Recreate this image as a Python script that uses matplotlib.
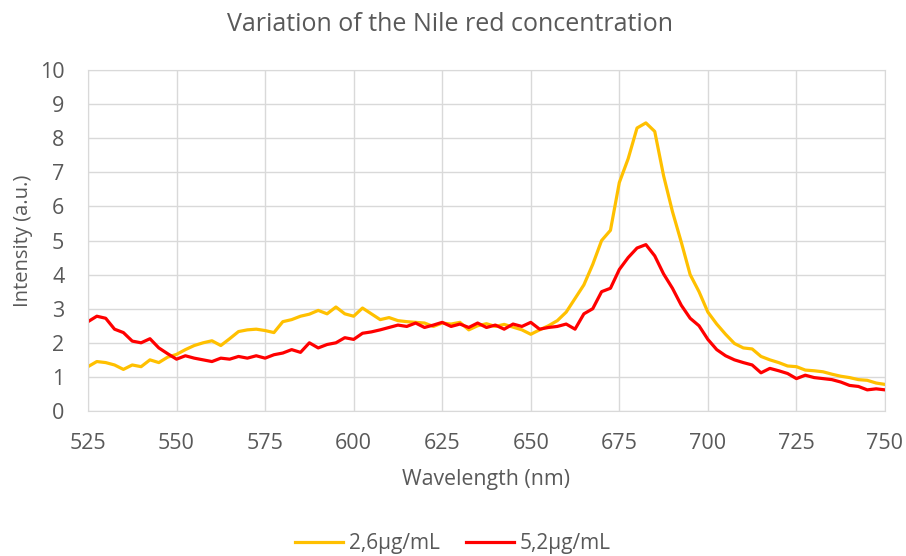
import numpy as np
import matplotlib.pyplot as plt

plt.rcParams['font.family'] = ['Open Sans', 'DejaVu Sans']

# wavelength grid (nm)
wavelength = np.arange(525, 750.1, 2.5)

conc_26 = [1.30, 1.45, 1.42, 1.35, 1.22, 1.35, 1.30, 1.50, 1.42, 1.58,
           1.66, 1.80, 1.92, 2.00, 2.06, 1.92, 2.12, 2.33, 2.38, 2.40,
           2.36, 2.30, 2.62, 2.68, 2.78, 2.84, 2.95, 2.85, 3.05, 2.85,
           2.78, 3.02, 2.85, 2.68, 2.74, 2.65, 2.62, 2.60, 2.58, 2.48,
           2.58, 2.55, 2.60, 2.38, 2.50, 2.56, 2.48, 2.54, 2.46, 2.38,
           2.25, 2.38, 2.50, 2.65, 2.90, 3.30, 3.70, 4.30, 5.00, 5.30,
           6.70, 7.40, 8.30, 8.45, 8.20, 6.90, 5.85, 4.95, 4.00, 3.50,
           2.90, 2.55, 2.25, 1.98, 1.85, 1.82, 1.60, 1.50, 1.42, 1.32,
           1.30, 1.20, 1.18, 1.15, 1.08, 1.02, 0.98, 0.92, 0.90, 0.82,
           0.78]

conc_52 = [2.62, 2.78, 2.72, 2.40, 2.30, 2.05, 2.00, 2.12, 1.85, 1.68,
           1.52, 1.62, 1.55, 1.50, 1.45, 1.55, 1.52, 1.60, 1.55, 1.62,
           1.55, 1.65, 1.70, 1.80, 1.72, 2.00, 1.85, 1.95, 2.00, 2.15,
           2.10, 2.28, 2.32, 2.38, 2.45, 2.52, 2.48, 2.58, 2.45, 2.52,
           2.60, 2.48, 2.55, 2.45, 2.58, 2.45, 2.52, 2.40, 2.55, 2.48,
           2.60, 2.40, 2.45, 2.48, 2.55, 2.40, 2.85, 3.00, 3.50, 3.60,
           4.15, 4.50, 4.78, 4.88, 4.55, 4.02, 3.60, 3.10, 2.72, 2.50,
           2.10, 1.80, 1.62, 1.50, 1.42, 1.35, 1.12, 1.25, 1.18, 1.10,
           0.95, 1.05, 0.98, 0.95, 0.92, 0.85, 0.75, 0.72, 0.62, 0.65,
           0.62]

labels = ['2,6µg/mL', '5,2µg/mL']
colors = ['#FFC000', '#FF0000']
text_col = '#595959'
grid_col = '#D9D9D9'

fig = plt.figure(figsize=(9.06, 5.56), dpi=100)
ax = fig.add_axes([0.0971, 0.2608, 0.8797, 0.6132])

ax.plot(wavelength, conc_26, color=colors[0], lw=2.3, label=labels[0])
ax.plot(wavelength, conc_52, color=colors[1], lw=2.3, label=labels[1])

ax.set_xlim(525, 750)
ax.set_ylim(0, 10)
ax.set_xticks(np.arange(525, 751, 25))
ax.set_yticks(np.arange(0, 11, 1))
ax.grid(True, color=grid_col, lw=1)
ax.set_axisbelow(True)
for s in ax.spines.values():
    s.set_color(grid_col)
ax.tick_params(length=0, labelsize=15.5, colors=text_col)
ax.tick_params(axis='x', pad=16)
ax.tick_params(axis='y', pad=17)

ax.set_xlabel('Wavelength (nm)', fontsize=15.3, color=text_col, labelpad=11)
ax.set_ylabel('Intensity (a.u.)', fontsize=14.5, color=text_col, labelpad=5)
fig.suptitle('Variation of the Nile red concentration', fontsize=18,
             color=text_col, x=0.497, y=0.978)

fig.legend(loc='lower center', bbox_to_anchor=(0.5, -0.03), ncol=2,
           frameon=False, fontsize=15, handlelength=2.3, handletextpad=0.25,
           columnspacing=1.3, labelcolor=text_col)

fig.savefig('out.png', dpi=100)
